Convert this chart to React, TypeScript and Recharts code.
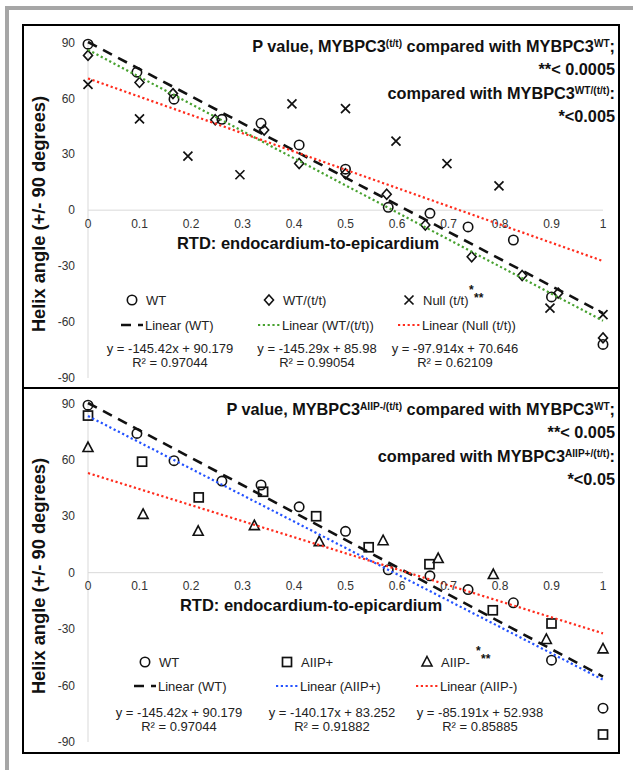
import React from "react";
import { ScatterChart, Scatter, XAxis, YAxis, ReferenceLine, ReferenceDot } from "recharts";

// values: relative transmural depth (RTD) and helix angle
const RTD_WT = [0, 0.095, 0.167, 0.26, 0.336, 0.41, 0.5, 0.583, 0.664, 0.738, 0.826, 0.9, 1];
const HA_WT = [89, 74, 59.5, 48.7, 46.6, 35, 22, 1.5, -1.7, -9, -16, -46.5, -72];
const RTD_WT_TT = [0, 0.1, 0.165, 0.247, 0.342, 0.41, 0.5, 0.58, 0.655, 0.745, 0.843, 0.913, 1];
const HA_WT_TT = [83, 68.5, 62.5, 48.5, 43, 25, 19.5, 8.5, -8, -25, -35, -44.5, -68.5];
const RTD_NULL = [0, 0.1, 0.194, 0.295, 0.396, 0.5, 0.598, 0.697, 0.798, 0.897, 1];
const HA_NULL = [67.5, 49, 29, 19, 57, 54.5, 37, 25, 13, -52.5, -56];
const RTD_AIIP_POS = [0, 0.105, 0.215, 0.34, 0.443, 0.545, 0.663, 0.786, 0.9, 1];
const HA_AIIP_POS = [83.5, 59, 40, 43, 30, 13.5, 4.5, -20, -27, -86];
const RTD_AIIP_NEG = [0, 0.107, 0.214, 0.323, 0.449, 0.573, 0.68, 0.787, 0.89, 1];
const HA_AIIP_NEG = [66.5, 31, 22, 25, 16.5, 17, 7.5, -1, -35.5, -40.5];

// linear trendlines printed on the chart
const TOP_NAMES = ["WT", "WT/(t/t)", "Null (t/t)"];
const TOP_SLOPE = [-145.42, -145.29, -97.914];
const TOP_INTERCEPT = [90.179, 85.98, 70.646];
const TOP_R2 = [0.97044, 0.99054, 0.62109];
const BOTTOM_NAMES = ["WT", "AIIP+", "AIIP-"];
const BOTTOM_SLOPE = [-145.42, -140.17, -85.191];
const BOTTOM_INTERCEPT = [90.179, 83.252, 52.938];
const BOTTOM_R2 = [0.97044, 0.91882, 0.85885];

const X_TICKS = [0, 0.1, 0.2, 0.3, 0.4, 0.5, 0.6, 0.7, 0.8, 0.9, 1];
const Y_TICKS = [-90, -60, -30, 0, 30, 60, 90];

const FONT = '"Liberation Sans", Arial, Helvetica, sans-serif';
const INK = "#111";
const W = 594;

const zip = (xs: number[], ys: number[]) => xs.map((x, i) => ({ x, y: ys[i] }));
const fitPoints = (m: number, b: number) => [0, 1].map((x) => ({ x, y: b + m * x }));

// marker shapes
const Circle = ({ cx, cy }: any) => <circle cx={cx} cy={cy} r={4.7} fill="none" stroke={INK} strokeWidth={1.6} />;
const Diamond = ({ cx, cy }: any) => (
  <path d={`M${cx},${cy - 5}L${cx + 4.5},${cy}L${cx},${cy + 5}L${cx - 4.5},${cy}Z`} fill="none" stroke={INK} strokeWidth={1.6} />
);
const Cross = ({ cx, cy }: any) => (
  <path d={`M${cx - 4.5},${cy - 4.5}L${cx + 4.5},${cy + 4.5}M${cx + 4.5},${cy - 4.5}L${cx - 4.5},${cy + 4.5}`} stroke={INK} strokeWidth={1.7} />
);
const Square = ({ cx, cy }: any) => <rect x={cx - 4.5} y={cy - 4.5} width={9} height={9} fill="none" stroke={INK} strokeWidth={1.7} />;
const Triangle = ({ cx, cy }: any) => (
  <path d={`M${cx},${cy - 5.5}L${cx + 5},${cy + 4}L${cx - 5},${cy + 4}Z`} fill="none" stroke={INK} strokeWidth={1.6} />
);
const Nothing = () => <g />;

const DASH = { stroke: "#111", strokeWidth: 2.6, strokeDasharray: "10 7" };
const GREEN = { stroke: "#47a12f", strokeWidth: 2.2, strokeDasharray: "2.2 2.6" };
const RED = { stroke: "#ff2b1c", strokeWidth: 2.2, strokeDasharray: "2.2 2.6" };
const BLUE = { stroke: "#2352ff", strokeWidth: 2.2, strokeDasharray: "2.2 2.6" };

const Sup = ({ children }: any) => (
  <span style={{ fontSize: "0.62em", position: "relative", top: "-0.5em", lineHeight: 0 }}>{children}</span>
);

const TOP_NOTE = [
  <>P value, MYBPC3<Sup>(t/t)</Sup> compared with MYBPC3<Sup>WT</Sup>;</>,
  <>**&lt; 0.0005</>,
  <>compared with MYBPC3<Sup>WT/(t/t)</Sup>:</>,
  <>*&lt;0.005</>,
];
const BOTTOM_NOTE = [
  <>P value, MYBPC3<Sup>AIIP-/(t/t)</Sup> compared with MYBPC3<Sup>WT</Sup>;</>,
  <>**&lt; 0.005</>,
  <>compared with MYBPC3<Sup>AIIP+/(t/t)</Sup>:</>,
  <>*&lt;0.05</>,
];

function Panel({ top, height, margin, xs, ys, names, slopes, intercepts, r2s, markers, fits, note, lay }: any) {
  return (
    <div style={{ position: "absolute", left: 22, top, width: W, height, border: "2px solid #000", background: "#fff", fontFamily: FONT, color: INK }}>
      <ScatterChart width={W} height={height} margin={margin}>
        <XAxis type="number" dataKey="x" domain={[0, 1]} hide />
        <YAxis
          type="number"
          dataKey="y"
          domain={[-90, 90]}
          ticks={Y_TICKS}
          interval={0}
          width={40}
          axisLine={{ stroke: "#d9d9d9" }}
          tickLine={false}
          tickMargin={7}
          tick={{ fontSize: 12, fill: "#333", fontFamily: FONT }}
        />
        <ReferenceLine y={0} stroke="#d9d9d9" />
        {X_TICKS.map((t) => (
          <ReferenceDot
            key={t}
            x={t}
            y={0}
            r={0}
            fill="none"
            stroke="none"
            label={{ value: String(t), position: "bottom", offset: 9, fontSize: 12, fill: "#333", fontFamily: FONT }}
          />
        ))}
        {names.map((n: string, i: number) => (
          <Scatter key={n} name={n} data={zip(xs[i], ys[i])} shape={markers[i]} isAnimationActive={false} />
        ))}
        {names.map((n: string, i: number) => (
          <Scatter
            key={n + "-fit"}
            name={"Linear (" + n + ")"}
            data={fitPoints(slopes[i], intercepts[i])}
            line={fits[i]}
            lineType="joint"
            shape={Nothing}
            isAnimationActive={false}
          />
        ))}
      </ScatterChart>

      <svg width={W} height={height} style={{ position: "absolute", left: 0, top: 0, pointerEvents: "none" }} fontFamily={FONT}>
        <text
          transform={`translate(${lay.yTitle[0]},${lay.yTitle[1]}) rotate(-90)`}
          textAnchor="middle"
          dominantBaseline="central"
          fontSize={18.3}
          fontWeight="bold"
          fill={INK}
        >
          Helix angle (+/- 90 degrees)
        </text>
        <text x={lay.xTitle[0]} y={lay.xTitle[1]} textAnchor="middle" dominantBaseline="central" fontSize={16.5} fontWeight="bold" fill={INK}>
          RTD: endocardium-to-epicardium
        </text>
        {names.map((n: string, i: number) => {
          const s = lay.cols[i];
          const M = markers[i];
          return (
            <g key={n}>
              <M cx={s + 11} cy={lay.rows[0]} />
              <text x={s + 25} y={lay.rows[0]} dominantBaseline="central" fontSize={13} fill="#222">{n}</text>
              <line x1={s} x2={s + 22} y1={lay.rows[1]} y2={lay.rows[1]} {...fits[i]} />
              <text x={s + 24} y={lay.rows[1]} dominantBaseline="central" fontSize={13} fill="#222">{"Linear (" + n + ")"}</text>
              <text x={lay.eqs[i]} y={lay.rows[2]} textAnchor="middle" dominantBaseline="central" fontSize={13} fill="#222">
                {`y = ${slopes[i]}x + ${intercepts[i]}`}
              </text>
              <text x={lay.eqs[i]} y={lay.rows[3]} textAnchor="middle" dominantBaseline="central" fontSize={13} fill="#222">
                {`R² = ${r2s[i]}`}
              </text>
            </g>
          );
        })}
        <text x={lay.stars[0]} y={lay.stars[1]} fontSize={12} fontWeight="bold" fill={INK}>
          *
          <tspan x={lay.stars[0] + 5} dy={8}>**</tspan>
        </text>
      </svg>

      <div style={{ position: "absolute", right: 3, top: 9, textAlign: "right", fontWeight: "bold", fontSize: 16.3, lineHeight: "23.3px", whiteSpace: "nowrap" }}>
        {note.map((line: any, i: number) => (
          <div key={i}>{line}</div>
        ))}
      </div>
    </div>
  );
}

export default function App() {
  return (
    <div style={{ position: "absolute", left: 0, top: 0, width: 633, height: 770, background: "#fff", overflow: "hidden" }}>
      <div style={{ position: "absolute", left: 5, top: 6, width: 640, height: 780, borderTop: "4px solid #a6a6a6", borderLeft: "4px solid #a6a6a6" }} />
      <Panel
        top={24}
        height={361}
        margin={{ top: 16, right: 15, bottom: 9, left: 24 }}
        xs={[RTD_WT, RTD_WT_TT, RTD_NULL]}
        ys={[HA_WT, HA_WT_TT, HA_NULL]}
        names={TOP_NAMES}
        slopes={TOP_SLOPE}
        intercepts={TOP_INTERCEPT}
        r2s={TOP_R2}
        markers={[Circle, Diamond, Cross]}
        fits={[DASH, GREEN, RED]}
        note={TOP_NOTE}
        lay={{ yTitle: [14, 188], xTitle: [284, 217], cols: [97, 234, 374], eqs: [146, 293, 431], rows: [274, 299, 322, 336], stars: [445, 268] }}
      />
      <Panel
        top={387}
        height={363}
        margin={{ top: 14, right: 15, bottom: 10, left: 24 }}
        xs={[RTD_WT, RTD_AIIP_POS, RTD_AIIP_NEG]}
        ys={[HA_WT, HA_AIIP_POS, HA_AIIP_NEG]}
        names={BOTTOM_NAMES}
        slopes={BOTTOM_SLOPE}
        intercepts={BOTTOM_INTERCEPT}
        r2s={BOTTOM_R2}
        markers={[Circle, Square, Triangle]}
        fits={[DASH, BLUE, RED]}
        note={BOTTOM_NOTE}
        lay={{ yTitle: [14, 187], xTitle: [287, 216], cols: [110, 252, 392], eqs: [155, 308, 456], rows: [273, 297, 323, 337], stars: [452, 266] }}
      />
    </div>
  );
}
